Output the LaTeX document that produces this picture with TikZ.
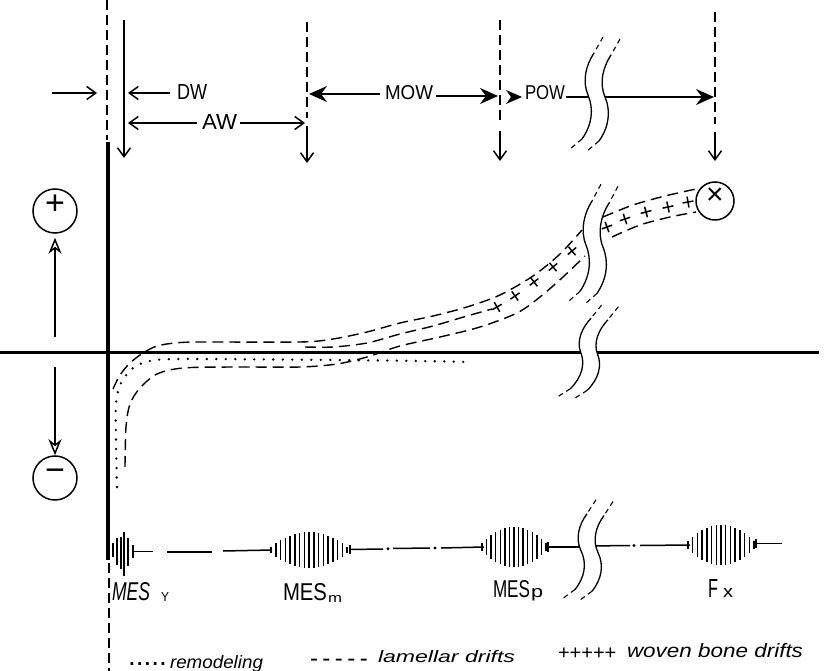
\documentclass[tikz,border=0pt]{standalone}
\usepackage{fontspec}
\setmainfont{Liberation Sans}
\usepackage{graphicx}
\usetikzlibrary{arrows.meta}
\newcommand\fitbox[3]{\resizebox{#1pt}{#2pt}{#3}}
\newcommand\spind[5]{%
  \foreach \k in {-#5,...,#5}{%
    \pgfmathsetmacro\hh{max(2.5,#4*(1-(\k*\k)/((#5+0.8)*(#5+0.8))))}%
    \draw[sp] ({#1+\k*#3/#5},{#2-\hh}) -- ({#1+\k*#3/#5},{#2+\hh});}}
\newcommand\brk[4]{%
  \begin{scope}[shift={(#1,#2)}, yscale=#3, xslant=#4]
    \fill[white] (0,-40) .. controls (-8,-28) and (-12,-12) .. (-6,2) .. controls (0,16) and (-2,32) .. (-12,46)
      -- (5,48) .. controls (15,34) and (17,18) .. (11,4) .. controls (5,-10) and (9,-26) .. (17,-38) -- cycle;
    \foreach \dx/\dy in {0/0,17/2}{%
      \begin{scope}[shift={(\dx,\dy)}]
        \draw[line width=1.3pt] (0,-40) .. controls (-8,-28) and (-12,-12) .. (-6,2) .. controls (0,16) and (-2,32) .. (-12,46);
        \draw[brkdash] (9,-56) -- (0,-40) (-12,46) -- (-24,56);
      \end{scope}}
  \end{scope}}
\begin{document}
\begin{tikzpicture}[x=1pt,y=-1pt,
  lbl/.style={inner sep=0pt, outer sep=0pt, anchor=base west},
  thn/.style={line width=1.5pt},
  dsh/.style={line width=1.4pt, dash pattern=on 10pt off 5pt},
  band/.style={line width=1.4pt, dash pattern=on 11pt off 6pt},
  dotl/.style={line width=2.6pt, line cap=round, dash pattern=on 0pt off 9.5pt},
  brkdash/.style={line width=1.1pt, dash pattern=on 5pt off 4pt},
  barb/.style={line width=1.5pt, -{Straight Barb[length=9pt,width=13pt]}},
  bold/.style={line width=1.8pt, -{Stealth[length=18pt,width=16pt,inset=6pt]}},
  openh/.style={line width=1.5pt, -{Stealth[open,length=16pt,width=13pt,inset=5pt]}},
  sign/.style={circle, draw, line width=1.5pt, inner sep=0pt, text height=0.69em, text depth=0pt},
  sp/.style={line width=1.5pt}]
\useasboundingbox (0,0) rectangle (825,671);
\fill[white] (0,0) rectangle (825,671);

% axes
\draw[line width=4pt] (108,142) -- (108,560);
\draw[line width=3pt] (0,352.5) -- (819,352.5);
\draw[dsh] (107,0) -- (107,140);
\draw[dsh] (109,563) -- (109,671);

% boundary lines and down arrows
\draw[barb] (124,20) -- (124,158);
\draw[dsh] (307,22) -- (307,118); \draw[barb] (307,126) -- (307,163);
\draw[dsh] (500,20) -- (500,123); \draw[barb] (500,131) -- (500,161);
\draw[dsh] (715,12) -- (715,124); \draw[barb] (715,132) -- (715,161);

% dimension arrows
\draw[barb] (52,93) -- (97,93);
\draw[barb] (170,93) -- (128,93);
\node[lbl] (dw) at (177,100) {\fitbox{30}{15}{DW}};
\draw[barb] (197,123) -- (128,123);
\draw[barb] (240,123) -- (305,123);
\node[lbl] (aw) at (202,130) {\fitbox{35}{15}{AW}};
\draw[bold] (380,94) -- (309,94);
\draw[bold] (436,96) -- (498,96);
\node[lbl] (mow) at (385,100) {\fitbox{48}{14}{MOW}};
\fill (506,90) -- (522,97) -- (506,104) -- (511,97) -- cycle;
\node[lbl] (pow) at (525,100) {\fitbox{40}{14}{POW}};
\draw[bold] (566,97) -- (714,97);

% sign circles
\node[sign, minimum size=44pt, font=\fontsize{34}{34}\selectfont] (plus) at (55,211) {+};
\node[sign, minimum size=44pt, font=\fontsize{34}{34}\selectfont] (minus) at (55,478) {−};
\coordinate (pa) at (55,337);
\coordinate (ma) at (55,367);
\draw[openh, shorten >=4pt] (pa) -- (plus);
\draw[openh] (ma) -- (minus);

% curves
\draw[band] plot[smooth] coordinates {(113,389) (120,375) (130,363) (143,353) (157,346) (175,343) (200,342) (300,342) (333,339) (367,332) (400,323) (433,316) (467,307) (500,295) (533,276) (560,254) (582,230)};
\draw[band] plot[smooth] coordinates {(305,347) (333,347) (367,343) (400,334) (433,326) (467,316) (492,309)};
\draw[band] plot[smooth] coordinates {(125,467) (126,427) (130,404) (140,388) (157,374) (183,368) (233,367) (300,367) (337,364) (367,357) (400,346) (440,337) (480,327) (517,313) (540,297) (563,277) (585,256)};
\draw[dotl] plot[smooth] coordinates {(117,487) (116,440) (116,403) (121,383) (133,368) (150,361) (183,359) (333,360) (420,361) (470,362)};
\draw[band] plot[smooth] coordinates {(603,217) (633,205) (665,196) (696,189)};
\draw[band] plot[smooth] coordinates {(612,237) (640,225) (670,217) (696,212)};
\foreach \x/\y/\a in {497/307/30, 515/296/35, 534/282/38, 553/267/40, 572/251/40, 607/227/20, 625/219/18, 646/212/15, 668/207/12, 688/202/10}
  \draw[thn, rotate around={\a:(\x,\y)}] ({\x-5.5},\y) -- ({\x+5.5},\y) (\x,{\y-5.5}) -- (\x,{\y+5.5});
\node[sign, minimum size=38pt, font=\fontsize{30}{30}\selectfont] (fx) at (715,201) {×};

% time line
\foreach \x/\a/\b in {113/543/557, 117/538/565, 121/537/569, 124/532/576, 128/538/566}
  \draw[sp] (\x,\a) -- (\x,\b);
\draw[thn] (133,545) -- (133,558); \draw[thn] (133,551.5) -- (153,551.5);
\draw[thn] (167,552) -- (212,552);
\draw[thn] (223,551) -- (272,550);
\spind{309}{550}{38}{18}{8}
\draw[thn] (350,545) -- (350,554);
\draw[thn] (350,549.5) -- (383,549); \fill (388,548.8) circle (1.6pt);
\draw[thn] (393,548.5) -- (430,548); \fill (435,548) circle (1.6pt);
\draw[thn] (441,548) -- (484,547);
\spind{514}{547}{32}{20}{7}
\draw[thn] (548,542) -- (548,552);
\draw[thn] (548,547) -- (585,547);
\draw[thn] (590,546) -- (630,545.5); \fill (634,545.5) circle (1.6pt);
\draw[thn] (640,545.5) -- (690,545);
\spind{721}{545}{33}{20}{7}
\draw[thn] (756,539) -- (756,548);
\draw[thn] (756,543.5) -- (782,543.5);

% breaks
\brk{594}{93}{1}{0}
\brk{592}{243}{1.05}{0}
\brk{587}{351}{0.82}{0.1}
\brk{587}{549}{0.88}{0}

% labels
\node[lbl] (mesy) at (112,600) {\fitbox{38}{18}{\itshape MES}\hspace{11pt}\raisebox{-1pt}{\fitbox{8}{9}{Y}}};
\node[lbl] (mesm) at (283,600) {\fitbox{44}{17}{MES}\hspace{1pt}\raisebox{-2pt}{\fitbox{14}{7}{m}}};
\node[lbl] (mesp) at (493,597) {\fitbox{37}{17}{MES}\hspace{1pt}\fitbox{12}{9}{p}};
\node[lbl] (fxl) at (708,597) {\fitbox{10}{18}{F}\hspace{5pt}\fitbox{10}{9}{x}};

% legend
\node[lbl] (k1) at (128,665) {\fontsize{28}{28}\selectfont .....};
\node[lbl] (t1) at (170,668) {\fitbox{93}{13}{\itshape remodeling}};
\node[lbl] (k2) at (310,666) {\fontsize{24}{24}\selectfont -\hspace{4.5pt}-\hspace{4.5pt}-\hspace{4.5pt}-\hspace{4.5pt}-};
\node[lbl] (t2) at (378,662) {\fitbox{137}{12}{\itshape lamellar drifts}};
\node[lbl] (k3) at (558,659) {\fontsize{20}{20}\selectfont +++++};
\node[lbl] (t3) at (627,657) {\fitbox{176}{14}{\itshape woven bone drifts}};
\end{tikzpicture}
\end{document}
